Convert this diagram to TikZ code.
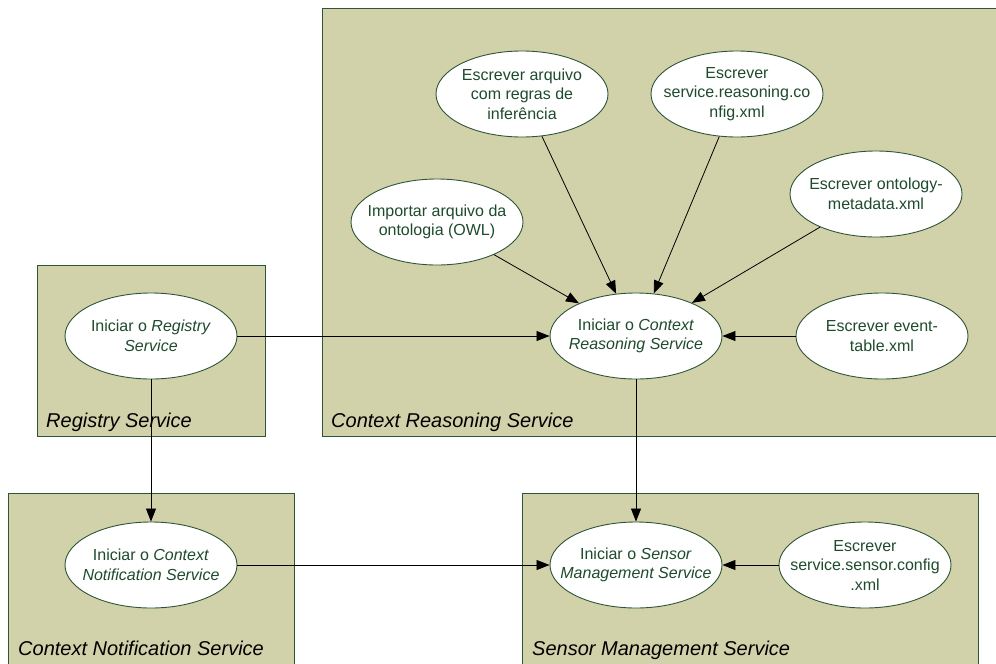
\documentclass[tikz,border=0pt]{standalone}
\usepackage{fontspec}
\setmainfont{Liberation Sans}
\usepackage{xcolor}
\usepackage{tikz}
\usetikzlibrary{arrows.meta}
\usetikzlibrary{shapes.geometric}
\definecolor{boxfill}{RGB}{210,210,170}
\definecolor{boxline}{RGB}{45,85,55}
\definecolor{txtgreen}{RGB}{30,75,45}
\tikzset{
 svcbox/.style={draw=boxline, fill=boxfill, line width=0.9pt},
 svclabel/.style={anchor=base west, inner sep=0, font=\fontsize{20}{24}\selectfont\itshape},
 task/.style={ellipse, draw=boxline, fill=white, line width=0.9pt, text=txtgreen,
  minimum width=172pt, minimum height=86pt, inner sep=-25pt, align=center,
  font=\fontsize{16}{19.5}\selectfont},
 link/.style={line width=0.8pt, ->}
}

\begin{document}
\begin{tikzpicture} [x=1pt, y=-1pt, >={Triangle[length=13pt,width=10pt]}]
\useasboundingbox (0,0) rectangle (996,664);
\clip (0,0) rectangle (996,664);
\fill[white] (0,0) rectangle (996,664);
\draw[svcbox] (37,265) rectangle (265,436);
\draw[svcbox] (322,8) rectangle (1010,436);
\draw[svcbox] (8,493) rectangle (294,680);
\draw[svcbox] (522,493) rectangle (978,680);
\node[svclabel] at (46,427) {Registry Service};
\node[svclabel] at (331,427) {Context Reasoning Service};
\node[svclabel] at (18,655) {Context Notification Service};
\node[svclabel] at (532,655) {Sensor Management Service};

\node[task] (reg)    at (151,336) {Iniciar o \textit{Registry}\\\textit{Service}};
\node[task] (ctx)    at (636,336) {Iniciar o \textit{Context}\\\textit{Reasoning Service}};
\node[task] (notif)  at (151,565) {Iniciar o \textit{Context}\\\textit{Notification Service}};
\node[task] (sens)   at (636,565) {Iniciar o \textit{Sensor}\\\textit{Management Service}};
\node[task] (scfg)   at (865,565) {Escrever\\service.sensor.config\\.xml};
\node[task] (evt)    at (882,336) {Escrever event-\\table.xml};
\node[task] (meta)   at (876,194) {Escrever ontology-\\metadata.xml};
\node[task] (rcfg)   at (737,94)  {Escrever\\service.reasoning.co\\nfig.xml};
\node[task] (regras) at (522,94)  {Escrever arquivo\\com regras de\\inferência};
\node[task] (owl)    at (437,222) {Importar arquivo da\\ontologia (OWL)};

\foreach \n in {owl,regras,rcfg,meta,evt,reg}
 \draw[link] (\n) -- (ctx);
\draw[link] (reg) -- (notif);
\draw[link] (ctx) -- (sens);
\draw[link] (notif) -- (sens);
\draw[link] (scfg) -- (sens);
\end{tikzpicture}
\end{document}
